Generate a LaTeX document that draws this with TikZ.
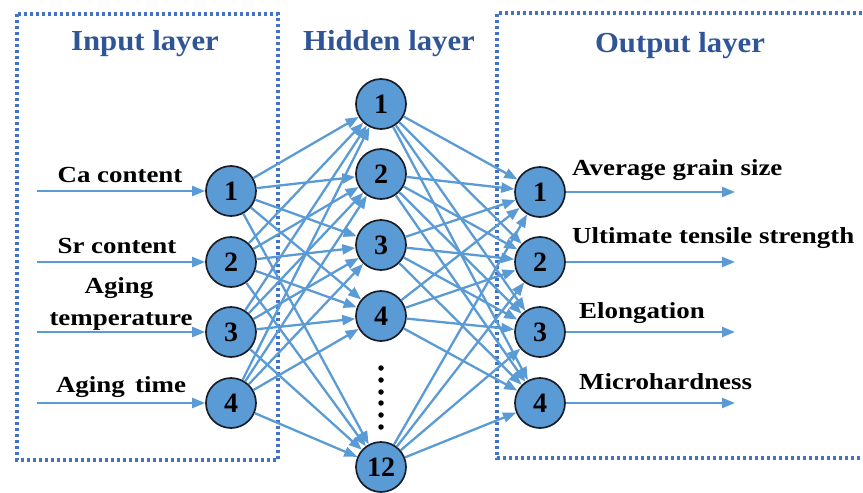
\documentclass[tikz,border=0pt]{standalone}
\usepackage{fontspec}
\setmainfont{Liberation Serif}
\newfontfamily\lblfont[FakeStretch=1.17]{Liberation Serif}
\newfontfamily\ttlfont[FakeStretch=1.06]{Liberation Serif}
\usetikzlibrary{arrows.meta}
\definecolor{netblue}{RGB}{91,155,213}
\definecolor{boxblue}{RGB}{68,114,196}
\definecolor{titleblue}{RGB}{47,85,151}
\definecolor{rimdark}{RGB}{25,30,40}
\tikzset{
  neuron/.style={circle, draw=rimdark, line width=1.7pt, fill=netblue,
    minimum size=50pt, inner sep=0pt,
    font=\bfseries\fontsize{28}{28}\selectfont},
  link/.style={draw=netblue, line width=2.3pt,
    -{Triangle[length=13pt,width=10pt]}},
  layerbox/.style={draw=boxblue, line width=3.4pt, dash pattern=on 3.2pt off 2.8pt},
  ttl/.style={font=\ttlfont\bfseries\fontsize{29}{29}\selectfont,
    text=titleblue, anchor=base, inner sep=0pt},
  lbl/.style={font=\lblfont\bfseries\fontsize{23}{23}\selectfont,
    anchor=base, inner sep=0pt},
  olbl/.style={lbl, anchor=base west},
  dot/.style={circle, fill=black, minimum size=5.5pt, inner sep=0pt}
}
\begin{document}
\begin{tikzpicture}[x=1pt,y=-1pt]
\useasboundingbox (0,0) rectangle (863,493);

% layer frames
\draw[layerbox] (17,14) rectangle (278,460);
\draw[layerbox] (862,13) -- (497,13) -- (497,458) -- (862,458);

% layer titles
\node[ttl] (tin)  at (145,50) {Input layer};
\node[ttl] (thid) at (389,50) {Hidden layer};
\node[ttl] (tout) at (680,52) {Output layer};

% neurons
\foreach \i/\y in {1/191,2/262,3/332,4/403}
  \node[neuron] (i\i) at (231,\y) {\i};
\foreach \i/\y in {1/104,2/174,3/245,4/316,12/467}
  \node[neuron] (h\i) at (381,\y) {\i};
\foreach \i/\y in {1/192,2/262,3/332,4/403}
  \node[neuron] (o\i) at (540,\y) {\i};

% vertical ellipsis between hidden neurons 4 and 12
\foreach \k/\y in {1/368,2/380,3/392,4/403,5/415,6/427}
  \node[dot] (d\k) at (381,\y) {};

% fully connected weights
\foreach \a in {1,...,4}
  \foreach \b in {1,2,3,4,12}
    \draw[link] (i\a) -- (h\b);
\foreach \b in {1,2,3,4,12}
  \foreach \c in {1,...,4}
    \draw[link] (h\b) -- (o\c);

% input signals
\foreach \i/\y in {1/191,2/262,3/332,4/403} {
  \coordinate (s\i) at (37,\y);
  \draw[link] (s\i) -- (i\i);
}
\node[lbl] (l1)  at (120,182) {Ca content};
\node[lbl] (l2)  at (117,253) {Sr content};
\node[lbl] (l3a) at (119,293) {Aging};
\node[lbl] (l3b) at (121,325) {temperature};
\node[lbl] (l4)  at (121,392) {Aging\hspace{0.45em}time};

% output signals
\foreach \i/\y in {1/192,2/262,3/332,4/403} {
  \coordinate (e\i) at (735,\y);
  \draw[link] (o\i) -- (e\i);
}
\node[olbl] (r1) at (572,175) {Average grain size};
\node[olbl] (r2) at (572,243) {Ultimate tensile strength};
\node[olbl] (r3) at (579,318) {Elongation};
\node[olbl] (r4) at (579,389) {Microhardness};
\end{tikzpicture}
\end{document}
